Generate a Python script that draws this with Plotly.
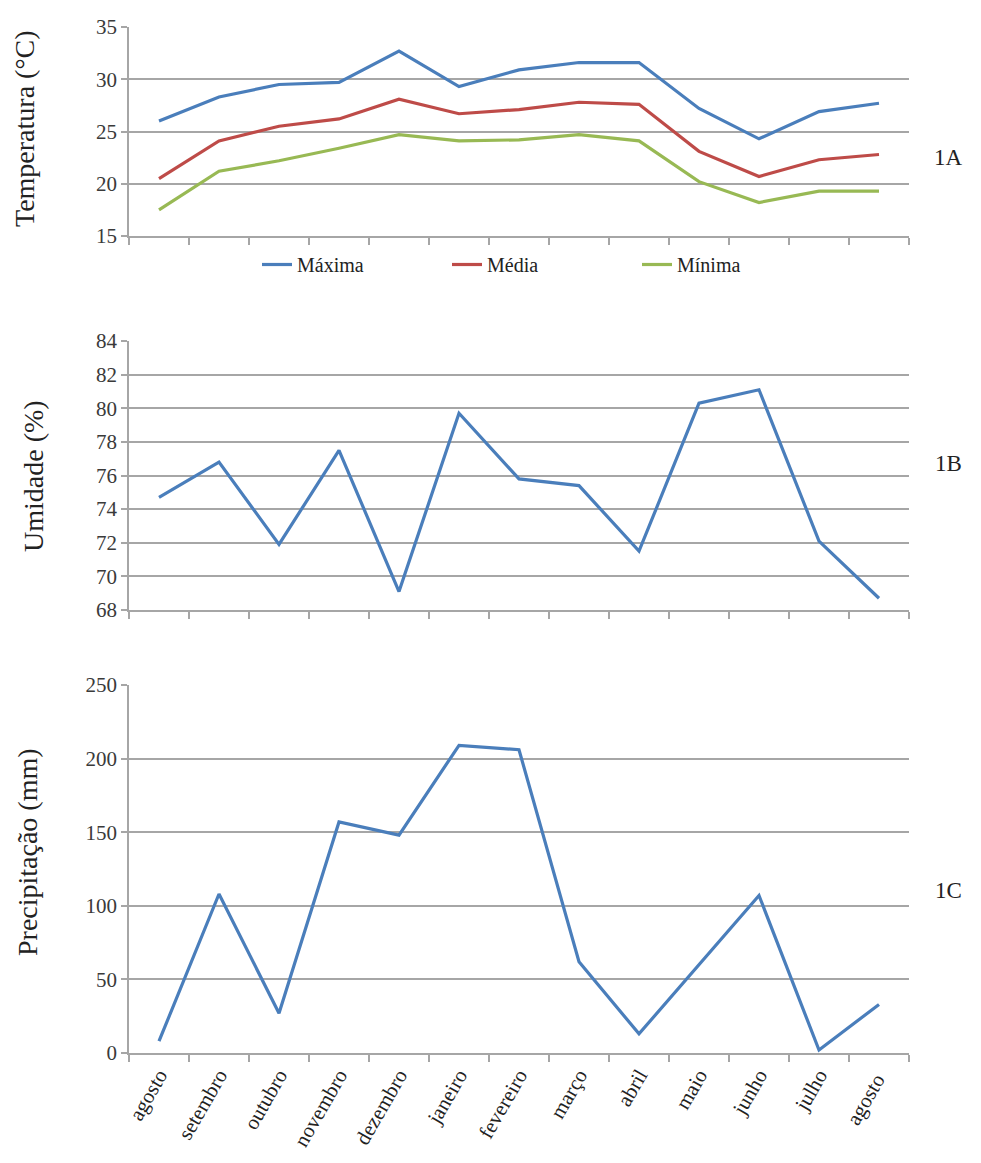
import plotly.graph_objects as go

months = ["agosto", "setembro", "outubro", "novembro", "dezembro", "janeiro",
          "fevereiro", "março", "abril", "maio", "junho", "julho", "agosto "]

t_max = [26.0, 28.3, 29.5, 29.7, 32.7, 29.3, 30.9, 31.6, 31.6, 27.2, 24.3, 26.9, 27.7]
t_med = [20.5, 24.1, 25.5, 26.2, 28.1, 26.7, 27.1, 27.8, 27.6, 23.1, 20.7, 22.3, 22.8]
t_min = [17.5, 21.2, 22.2, 23.4, 24.7, 24.1, 24.2, 24.7, 24.1, 20.2, 18.2, 19.3, 19.3]

umidade = [74.7, 76.8, 71.9, 77.5, 69.1, 79.7, 75.8, 75.4, 71.5, 80.3, 81.1, 72.1, 68.7]

precip = [8, 108, 27, 157, 148, 209, 206, 62, 13, 60, 107, 2, 33]

W, H = 981, 1163
OFF = 8  # page body margin offset
BLUE = "#4A7EBB"
RED = "#BE4B48"
GREEN = "#98B954"
GRID = "#A6A6A6"
SERIF = "Liberation Serif"


def px_x(x):
    return (x - OFF) / W


def px_y(y):
    return 1 - (y - OFF) / H


def ydom(top_px, bot_px):
    return [px_y(bot_px), px_y(top_px)]


xdom = [px_x(129), px_x(909)]

fig = go.Figure()
fig.add_trace(go.Scatter(x=months, y=t_max, name="Máxima", mode="lines",
                         line=dict(color=BLUE, width=3.2), xaxis="x", yaxis="y"))
fig.add_trace(go.Scatter(x=months, y=t_med, name="Média", mode="lines",
                         line=dict(color=RED, width=3.2), xaxis="x", yaxis="y"))
fig.add_trace(go.Scatter(x=months, y=t_min, name="Mínima", mode="lines",
                         line=dict(color=GREEN, width=3.2), xaxis="x", yaxis="y"))
fig.add_trace(go.Scatter(x=months, y=umidade, name="Umidade", mode="lines",
                         line=dict(color=BLUE, width=3.2), xaxis="x2", yaxis="y2",
                         showlegend=False))
fig.add_trace(go.Scatter(x=months, y=precip, name="Precipitação", mode="lines",
                         line=dict(color=BLUE, width=3.2), xaxis="x3", yaxis="y3",
                         showlegend=False))

xcommon = dict(type="category", categoryorder="array", categoryarray=months,
               range=[-0.5, 12.5], domain=xdom, tickson="boundaries",
               ticks="outside", ticklen=7, tickcolor=GRID, tickwidth=1.5,
               showline=True, linecolor=GRID, linewidth=1.5, showgrid=False,
               zeroline=False, automargin=False, fixedrange=True)
ycommon = dict(showline=True, linecolor=GRID, linewidth=1.5, showgrid=True,
               gridcolor=GRID, gridwidth=1.5, ticks="outside", ticklen=6,
               tickcolor=GRID, tickwidth=1.5, zeroline=False, automargin=False,
               tickfont=dict(family=SERIF, size=21, color="#3a3a3a"),
               fixedrange=True)

fig.update_layout(
    width=W, height=H,
    margin=dict(l=0, r=0, t=0, b=0),
    paper_bgcolor="white", plot_bgcolor="white",
    font=dict(family=SERIF, color="#222222"),
    showlegend=True,
    legend=dict(orientation="h", x=px_x(257), y=px_y(245), xanchor="left",
                yanchor="top", font=dict(family=SERIF, size=20, color="#222222"),
                entrywidth=145, entrywidthmode="pixels", bgcolor="rgba(0,0,0,0)"),
    xaxis=dict(xcommon, anchor="y", showticklabels=False),
    xaxis2=dict(xcommon, anchor="y2", showticklabels=False),
    xaxis3=dict(xcommon, anchor="y3", showticklabels=True, tickangle=-60,
                tickfont=dict(family=SERIF, size=21, color="#222222")),
    yaxis=dict(ycommon, domain=ydom(27, 236), range=[15, 35], dtick=5,
               tick0=15, anchor="x"),
    yaxis2=dict(ycommon, domain=ydom(341, 610), range=[68, 84], dtick=2,
                tick0=68, anchor="x2"),
    yaxis3=dict(ycommon, domain=ydom(685, 1053), range=[0, 250], dtick=50,
                tick0=0, anchor="x3"),
)

annots = [
    ("Temperatura (°C)", 25, 129, 90, 28),
    ("Umidade (%)", 33, 476, 90, 28),
    ("Precipitação (mm)", 27, 852, 90, 28),
    ("1A", 948, 157, 0, 23),
    ("1B", 948, 463, 0, 23),
    ("1C", 948, 890, 0, 23),
]
for text, px, py, ang, fs in annots:
    fig.add_annotation(text=text, x=px_x(px), y=px_y(py), xref="paper",
                       yref="paper", showarrow=False, textangle=-ang if ang else 0,
                       xanchor="center", yanchor="middle",
                       font=dict(family=SERIF, size=fs, color="#222222"))

fig.write_html("out.html")
